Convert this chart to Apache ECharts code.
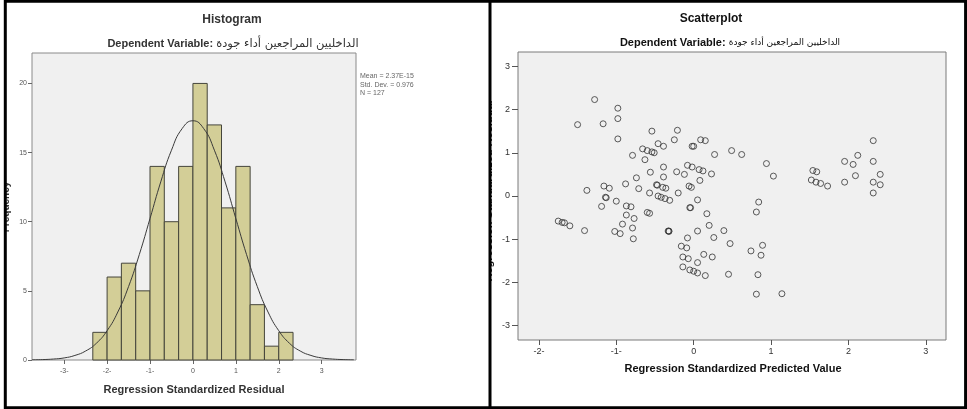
<!DOCTYPE html>
<html>
<head>
<meta charset="utf-8">
<script src="https://cdn.jsdelivr.net/npm/echarts@6/dist/echarts.min.js"></script>
<style>
html, body { margin: 0; padding: 0; background: #fff; }
#box { width: 967px; height: 409px; }
</style>
</head>
<body>
<div id="box"></div>
<script>
// histogram of residuals (bin width 1/3)
var binStart = [-2.333, -2.0, -1.667, -1.333, -1.0, -0.667, -0.333, 0.0, 0.333, 0.667, 1.0, 1.333, 1.667, 2.0];
var binWidth = 0.333;
var binCount = [2, 6, 7, 5, 14, 10, 14, 20, 17, 11, 14, 4, 1, 2];
// normal curve
var curveX = [-3.75, -3.5, -3.25, -3, -2.75, -2.5, -2.25, -2, -1.75, -1.5, -1.25, -1, -0.75, -0.5, -0.25, 0,
  0.25, 0.5, 0.75, 1, 1.25, 1.5, 1.75, 2, 2.25, 2.5, 2.75, 3, 3.25, 3.5, 3.75];
var curveY = [0.01, 0.03, 0.07, 0.15, 0.33, 0.65, 1.21, 2.12, 3.47, 5.31, 7.62, 10.23, 12.88, 15.17, 16.74, 17.3,
  16.74, 15.17, 12.88, 10.23, 7.62, 5.31, 3.47, 2.12, 1.21, 0.65, 0.33, 0.15, 0.07, 0.03, 0.01];
var histXTicks = [-3, -2, -1, 0, 1, 2, 3];
var histYTicks = [0, 5, 10, 15, 20];
var histStats = ["Mean = 2.37E-15", "Std. Dev. = 0.976", "N = 127"];

// scatterplot: standardized predicted value vs standardized residual
var predicted = [-1.50, -1.28, -1.17, -0.98, -0.98, -0.98, -0.54, -0.21, -0.46, -0.39, -0.25, -0.02, 0.00, 0.09, 0.15,
  -0.66, -0.60, -0.54, -0.51, -0.79, -0.63, 0.27, 0.49, 0.62, 0.94, 1.03, -0.39, -0.08, -0.02, 0.07, 0.12, 0.23, 0.08,
  -0.22, -0.12, -0.56, -0.39, -0.74, -0.88, -0.71, -0.48, -0.47, -0.40, -0.36, -0.06, -0.03, -0.57, -0.46, -0.42, -0.37,
  -0.31, -0.20, 0.05, 0.84, -1.38, -1.16, -1.09, -1.14, -1.13, -1.00,
  1.54, 1.59, 1.52, 1.58, 1.64, 1.73, 1.95, 2.06, 2.12, 2.09, 1.95, 2.32, 2.32, 2.41, 2.32, 2.41, 2.32,
  -0.05, -0.04, 0.17, 0.20, 0.05, 0.39, 0.26, 0.47, -0.08, -0.16, -0.09, 0.81, 0.89, 0.74, 0.13, 0.24, -0.14, -0.07,
  0.87, 0.05, -0.14, -0.05, 0.00, 0.05, 0.15, 0.45, 0.83, 0.81, 1.14,
  -1.19, -0.87, -0.81, -0.60, -0.57, -0.87, -0.77, -0.92, -0.79, -0.78, -1.02, -0.95, -1.41, -1.75, -1.70, -1.67, -1.60,
  -0.33, -0.32, -0.32];
var residual = [1.65, 2.23, 1.67, 2.03, 1.79, 1.32, 1.50, 1.52, 1.21, 1.15, 1.30, 1.15, 1.15, 1.30, 1.28,
  1.09, 1.05, 1.02, 1.00, 0.94, 0.84, 0.96, 1.05, 0.96, 0.75, 0.46, 0.67, 0.71, 0.67, 0.61, 0.58, 0.51, 0.36,
  0.56, 0.50, 0.55, 0.44, 0.42, 0.28, 0.17, 0.26, 0.25, 0.20, 0.18, 0.23, 0.20, 0.07, 0.00, -0.03, -0.06,
  -0.10, 0.07, -0.09, -0.14, 0.13, 0.23, 0.18, -0.03, -0.04, -0.12,
  0.59, 0.56, 0.37, 0.32, 0.29, 0.23, 0.80, 0.73, 0.94, 0.47, 0.32, 1.28, 0.80, 0.50, 0.32, 0.26, 0.07,
  -0.27, -0.27, -0.41, -0.68, -0.81, -0.80, -0.96, -1.10, -0.97, -1.16, -1.20, -0.37, -1.14, -1.27, -1.35, -1.41, -1.41, -1.45,
  -1.37, -1.54, -1.64, -1.71, -1.74, -1.78, -1.84, -1.81, -1.82, -2.27, -2.26,
  -0.24, -0.23, -0.25, -0.38, -0.40, -0.44, -0.52, -0.65, -0.74, -0.99, -0.82, -0.87, -0.80, -0.58, -0.61, -0.62, -0.69,
  -0.81, -0.81, -0.82];
var scatXTicks = [-2, -1, 0, 1, 2, 3];
var scatYTicks = [-3, -2, -1, 0, 1, 2, 3];

var depLabel = "Dependent Variable: ";
var depName = "الداخليين المراجعين أداء جودة";
var FONT = "'Liberation Sans', Arial, 'DejaVu Sans', sans-serif";
var AR_FONT = "'DejaVu Sans', sans-serif";

function negLabel(v) {
  return v < 0 ? v + "-" : String(v);
}

function subtitleStyle(latinSize, arabicSize, color) {
  return {
    text: "{a|" + depLabel + "}{b|" + depName + "}",
    align: "center",
    verticalAlign: "middle",
    rich: {
      a: { font: "bold " + latinSize + "px " + FONT, fill: color },
      b: { font: arabicSize + "px " + AR_FONT, fill: color }
    }
  };
}

function drawCharts() {
  var myChart = echarts.init(document.getElementById("box"));

  var bars = [];
  for (var i = 0; i < binStart.length; i++) {
    bars.push([binStart[i], binStart[i] + binWidth, binCount[i]]);
  }
  var curve = [];
  for (var j = 0; j < curveX.length; j++) {
    curve.push([curveX[j], curveY[j]]);
  }
  var points = [];
  for (var k = 0; k < predicted.length; k++) {
    points.push([predicted[k], residual[k]]);
  }

  var option = {
    animation: false,
    backgroundColor: "#fff",
    grid: [
      { left: 32, top: 53, width: 324, height: 307, show: true, backgroundColor: "#f0f0f0", borderColor: "#8a8a8a", borderWidth: 1 },
      { left: 518, top: 52, width: 428, height: 288, show: true, backgroundColor: "#f0f0f0", borderColor: "#7a7a7a", borderWidth: 1 }
    ],
    xAxis: [
      {
        gridIndex: 0, type: "value", min: -3.75, max: 3.8,
        axisLine: { show: false, onZero: false },
        axisTick: { show: true, length: 4, lineStyle: { color: "#666" }, customValues: histXTicks },
        axisLabel: { fontSize: 7, color: "#555", margin: 8, fontFamily: FONT, customValues: histXTicks, formatter: negLabel },
        splitLine: { show: false }
      },
      {
        gridIndex: 1, type: "value", min: -2.27, max: 3.26,
        axisLine: { show: false, onZero: false },
        axisTick: { show: true, length: 5, lineStyle: { color: "#555" }, customValues: scatXTicks },
        axisLabel: { fontSize: 9, color: "#333", margin: 7, fontFamily: FONT, customValues: scatXTicks, formatter: negLabel },
        splitLine: { show: false }
      }
    ],
    yAxis: [
      {
        gridIndex: 0, type: "value", min: 0, max: 22.2,
        axisLine: { show: false, onZero: false },
        axisTick: { show: true, length: 4, lineStyle: { color: "#666" }, customValues: histYTicks },
        axisLabel: { fontSize: 7, color: "#555", margin: 5, fontFamily: FONT, customValues: histYTicks },
        splitLine: { show: false }
      },
      {
        gridIndex: 1, type: "value", min: -3.33, max: 3.33,
        axisLine: { show: false, onZero: false },
        axisTick: { show: true, length: 6, lineStyle: { color: "#555" }, customValues: scatYTicks },
        axisLabel: { fontSize: 9, color: "#333", margin: 8, fontFamily: FONT, customValues: scatYTicks },
        splitLine: { show: false }
      }
    ],
    series: [
      {
        type: "custom",
        xAxisIndex: 0, yAxisIndex: 0,
        data: bars,
        encode: { x: [0, 1], y: 2 },
        renderItem: function (params, api) {
          var p0 = api.coord([api.value(0), api.value(2)]);
          var p1 = api.coord([api.value(1), 0]);
          return {
            type: "rect",
            shape: { x: p0[0], y: p0[1], width: p1[0] - p0[0], height: p1[1] - p0[1] },
            style: { fill: "#d3ce97", stroke: "#45453b", lineWidth: 1 }
          };
        }
      },
      {
        type: "line",
        xAxisIndex: 0, yAxisIndex: 0,
        data: curve,
        smooth: true,
        showSymbol: false,
        lineStyle: { color: "#3a3a3a", width: 1 },
        z: 3
      },
      {
        type: "scatter",
        xAxisIndex: 1, yAxisIndex: 1,
        data: points,
        symbol: "circle",
        symbolSize: 6,
        itemStyle: { color: "rgba(0,0,0,0)", borderColor: "#333", borderWidth: 1 }
      }
    ],
    graphic: [
      // histogram texts
      { type: "text", x: 232, y: 20, style: { text: "Histogram", font: "bold 12px " + FONT, fill: "#333", align: "center", verticalAlign: "middle" } },
      { type: "text", x: 233, y: 44, style: subtitleStyle(11, 11.5, "#333") },
      { type: "text", x: 194, y: 390, style: { text: "Regression Standardized Residual", font: "bold 11px " + FONT, fill: "#333", align: "center", verticalAlign: "middle" } },
      { type: "text", x: 6, y: 207, rotation: Math.PI / 2, z: 10, style: { text: "Frequency", font: "bold 10px " + FONT, fill: "#333", align: "center", verticalAlign: "middle" } },
      { type: "text", x: 360, y: 72, style: { text: histStats.join("\n"), font: "7px " + FONT, lineHeight: 8.5, fill: "#666", align: "left", verticalAlign: "top" } },
      // scatterplot texts
      { type: "text", x: 711, y: 19, style: { text: "Scatterplot", font: "bold 12px " + FONT, fill: "#111", align: "center", verticalAlign: "middle" } },
      { type: "text", x: 730, y: 43, style: subtitleStyle(11, 9, "#111") },
      { type: "text", x: 733, y: 369, style: { text: "Regression Standardized Predicted Value", font: "bold 11px " + FONT, fill: "#111", align: "center", verticalAlign: "middle" } },
      { type: "text", x: 489, y: 191, rotation: Math.PI / 2, z: 10, style: { text: "Regression Standardized Residual", font: "bold 11px " + FONT, fill: "#111", align: "center", verticalAlign: "middle" } },
      // the axis titles are cut by the panel edges
      { type: "rect", z: 50, shape: { x: 0, y: 60, width: 5, height: 300 }, style: { fill: "#fff" } },
      { type: "rect", z: 50, shape: { x: 470, y: 60, width: 19.5, height: 300 }, style: { fill: "#fff" } },
      // frame and divider
      { type: "rect", z: 100, shape: { x: 5.3, y: 1.3, width: 960.3, height: 406.5 }, style: { fill: "none", stroke: "#000", lineWidth: 3 } },
      { type: "line", z: 100, shape: { x1: 490, y1: 0, x2: 490, y2: 409 }, style: { stroke: "#000", lineWidth: 3 } }
    ]
  };
  myChart.setOption(option);
}

drawCharts();
</script>
</body>
</html>
